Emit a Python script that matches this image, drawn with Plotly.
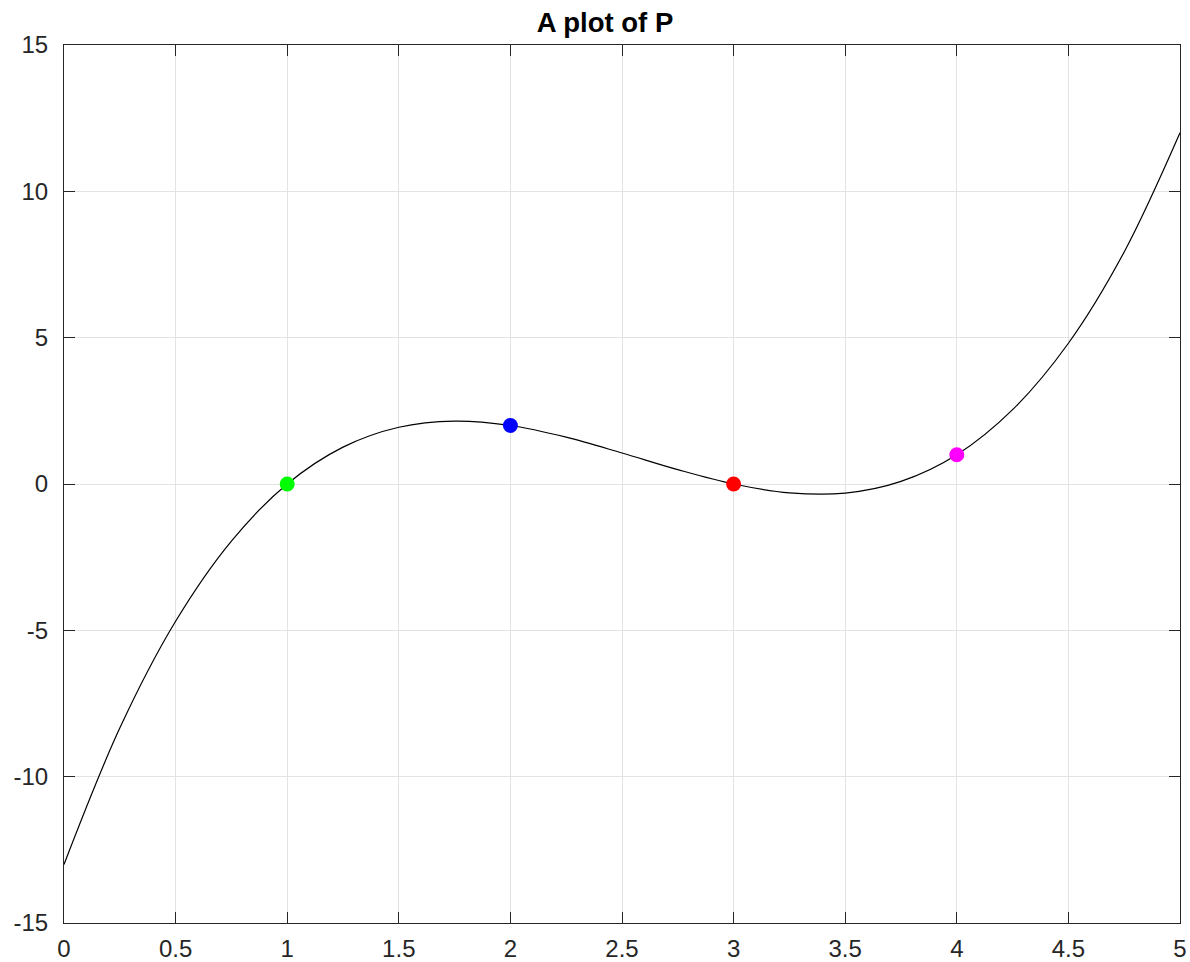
import plotly.graph_objects as go

# Curve samples of P
curve_x = [0, 0.25, 0.5, 0.75, 1, 1.25, 1.5, 1.75, 2, 2.25, 2.5, 2.75, 3,
           3.25, 3.5, 3.75, 4, 4.25, 4.5, 4.75, 5]
curve_y = [-13, -8.34, -4.69, -1.95, 0, 1.26, 1.94, 2.15, 2, 1.60, 1.06, 0.49, 0,
           -0.30, -0.31, 0.09, 1, 2.54, 4.81, 7.93, 12]

# Highlighted points
pt_x = [1, 2, 3, 4]
pt_y = [0, 2, 0, 1]
pt_colors = ["#00ff00", "#0000ff", "#ff0000", "#ff00ff"]

x_ticks = [0, 0.5, 1, 1.5, 2, 2.5, 3, 3.5, 4, 4.5, 5]
x_tick_labels = ["0", "0.5", "1", "1.5", "2", "2.5", "3", "3.5", "4", "4.5", "5"]
y_ticks = [-15, -10, -5, 0, 5, 10, 15]
y_tick_labels = ["-15", "-10", "-5", "0", "5", "10", "15"]

FONT = "Liberation Sans, Arial, Helvetica, sans-serif"

fig = go.Figure()
fig.add_trace(go.Scatter(x=curve_x, y=curve_y, mode="lines",
                         line=dict(color="black", width=1.2, shape="spline", smoothing=1.0),
                         showlegend=False, hoverinfo="skip"))
for xv, yv, c in zip(pt_x, pt_y, pt_colors):
    fig.add_trace(go.Scatter(x=[xv], y=[yv], mode="markers",
                             marker=dict(color=c, size=15, line=dict(width=0)),
                             showlegend=False))

axis_common = dict(
    showline=True, linecolor="#262626", linewidth=1, mirror="ticks",
    ticks="inside", ticklen=11, tickcolor="#262626", tickwidth=1,
    showgrid=True, gridcolor="#e3e3e3", gridwidth=1, zeroline=False,
    tickfont=dict(family=FONT, size=24, color="#262626"),
    automargin=False,
)

fig.update_xaxes(range=[0, 5], tickmode="array", tickvals=x_ticks, ticktext=x_tick_labels,
                 ticklabelstandoff=4, **axis_common)
fig.update_yaxes(range=[-15, 15], tickmode="array", tickvals=y_ticks, ticktext=y_tick_labels,
                 ticklabelstandoff=10, **axis_common)

fig.update_layout(
    width=1190, height=962,
    margin=dict(l=64, r=10, t=45, b=39, autoexpand=False),
    plot_bgcolor="white", paper_bgcolor="white",
    title=dict(text="<b>A plot of P</b>", x=605 / 1190, xanchor="center",
               y=1 - 22 / 962, yanchor="middle",
               font=dict(family=FONT, size=27.5, color="black")),
)

# remove the default 8px page margin so the figure fills the window exactly
fig.write_html("out.html",
               config={"displayModeBar": False},
               post_script="document.body.style.margin='0';document.body.style.overflow='hidden';")
